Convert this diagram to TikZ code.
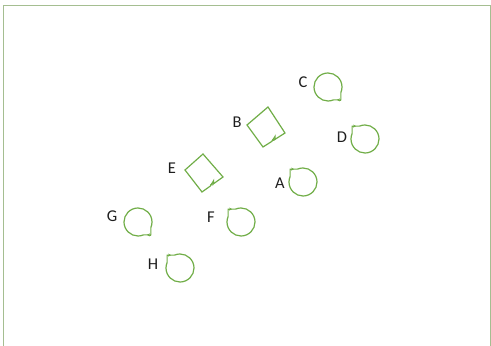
\documentclass[tikz,border=0pt]{standalone}
\usepackage{fontspec}
\setmainfont{Carlito}
\usetikzlibrary{arrows.meta,calc}
\definecolor{loopgreen}{RGB}{112,173,71}
\definecolor{framegreen}{RGB}{165,190,145}
\definecolor{txt}{RGB}{30,30,30}
\tikzset{
  lbl/.style={text=txt,font=\fontsize{16.5}{16.5}\selectfont,inner sep=0pt},
  loopline/.style={draw=loopgreen,line width=1.2pt,line join=miter},
  looptip/.style={draw=loopgreen,line width=0.7pt,-{Stealth[length=3pt,width=3pt]}}
}
% loop with corner at bottom-right (#1 centre, #2 radius)
\newcommand{\loopBR}[2]{%
  \draw[loopline] ($(#1)+(0.92*#2,-0.92*#2)$) -- ($(#1)+(-66.9:#2)$) arc[start angle=-66.9,end angle=-383.1,radius=#2] -- cycle;
  \draw[looptip] ($(#1)+(0.92*#2,-0.92*#2)$) -- ++(-4,0);}
% loop with corner at top-left
\newcommand{\loopTL}[2]{%
  \draw[loopline] ($(#1)+(-0.92*#2,0.92*#2)$) -- ($(#1)+(113.1:#2)$) arc[start angle=113.1,end angle=-203.1,radius=#2] -- cycle;
  \draw[looptip] ($(#1)+(-0.92*#2,0.92*#2)$) -- ++(4,0);}
\begin{document}
\begin{tikzpicture}[x=1pt,y=1pt]
\useasboundingbox (0,0) rectangle (491,346);
% frame
\draw[framegreen,line width=1pt] (3.5,0) -- (3.5,340.5) -- (490,340.5) -- (490,0);
% labels
\node[lbl] (C) at (303,264) {C};
\node[lbl] (B) at (237,224) {B};
\node[lbl] (D) at (342,209) {D};
\node[lbl] (E) at (172,178) {E};
\node[lbl] (A) at (280,163) {A};
\node[lbl] (G) at (112,130) {G};
\node[lbl] (F) at (211,129) {F};
\node[lbl] (H) at (153,82) {H};
% loop centres
\coordinate (cC) at (328,259);
\coordinate (cD) at (365,207);
\coordinate (cA) at (303,164);
\coordinate (cG) at (138,124);
\coordinate (cF) at (241,124);
\coordinate (cH) at (180,78);
\loopBR{cC}{14}
\loopTL{cD}{14}
\loopTL{cA}{14}
\loopBR{cG}{14}
\loopTL{cF}{14}
\loopTL{cH}{14}
% diamond loops
\coordinate (bT) at (268,239);
\coordinate (bR) at (285,213);
\coordinate (bB) at (263,199);
\coordinate (bL) at (247,221);
\draw[loopline] (bL) -- (bT) -- (bR) -- ($(bR)!0.45!(bB)$) -- ++(0,3) -- ($(bR)!0.6!(bB)$) -- (bB) -- cycle;
\draw[looptip] ($(bR)!0.45!(bB)$) -- ++(-3.5,-1.2);
\coordinate (eT) at (203,192);
\coordinate (eR) at (223,169);
\coordinate (eB) at (202,154);
\coordinate (eL) at (185,176);
\draw[loopline] (eL) -- (eT) -- (eR) -- ($(eR)!0.45!(eB)$) -- ++(0,3) -- ($(eR)!0.6!(eB)$) -- (eB) -- cycle;
\draw[looptip] ($(eR)!0.45!(eB)$) -- ++(-3.5,-1.2);
\end{tikzpicture}
\end{document}
